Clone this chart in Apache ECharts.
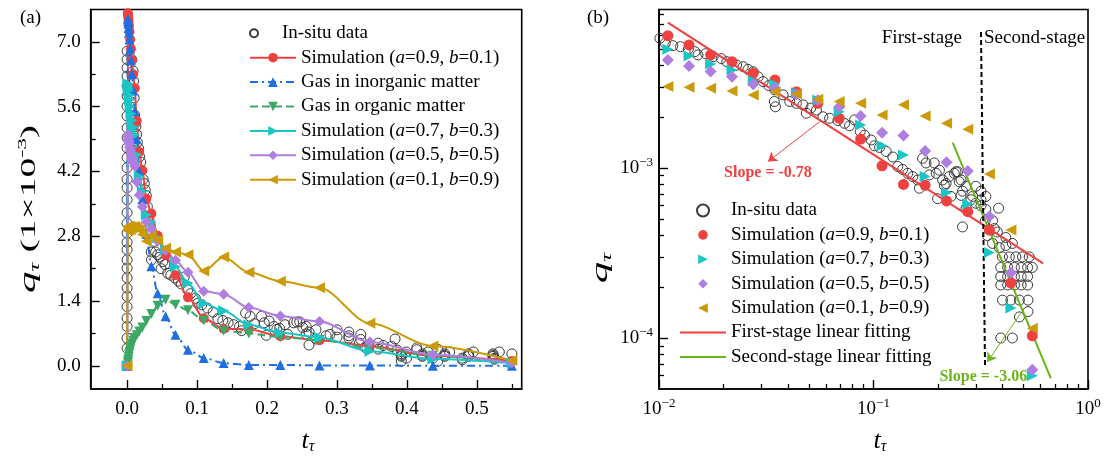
<!DOCTYPE html>
<html>
<head>
<meta charset="utf-8">
<script src="https://cdn.jsdelivr.net/npm/echarts@6/dist/echarts.min.js"></script>
<style>
  html, body { margin: 0; padding: 0; background: #fff; }
  #chart { width: 1106px; height: 462px; }
</style>
</head>
<body>
<div id="chart"></div>
<script>
var FONT = '"Liberation Serif", "Times New Roman", serif'
var RED = '#f04141'
var BLUE = '#1f6fe0'
var GREEN = '#3ca865'
var CYAN = '#19c6c6'
var PURPLE = '#b07ee0'
var GOLD = '#cc9a08'
var FITGREEN = '#6cb41c'

// simulated time grid (t_tau) shared by every simulation curve
var simT = [0, 0.0011, 0.0014, 0.0017, 0.0022, 0.0028, 0.0035, 0.0044, 0.0055, 0.0069, 0.0087,
  0.011, 0.0138, 0.0174, 0.0219, 0.0275, 0.0347, 0.0437, 0.055, 0.0692, 0.0871,
  0.1096, 0.138, 0.174, 0.219, 0.275, 0.347, 0.437, 0.55]
// q_tau in units of 1e-3
var simA09 = [0, 7.62, 7.58, 7.52, 7.45, 7.35, 7.22, 7.05, 6.85, 6.6, 6.3,
  6.0, 5.29, 4.62, 4.22, 3.61, 3.29, 2.81, 2.4, 1.96, 1.48,
  1.03, 0.8, 0.79, 0.64, 0.553, 0.431, 0.211, 0.103]
var simA07 = [0, 6.1, 6.05, 6.0, 5.95, 5.85, 5.75, 5.6, 5.45, 5.3, 5.15,
  4.99, 4.56, 4.09, 3.77, 3.26, 3.11, 2.77, 2.51, 2.14, 1.79,
  1.35, 1.19, 0.89, 0.716, 0.614, 0.318, 0.15, 0.06]
var simA05 = [0, 5.0, 4.95, 4.9, 4.85, 4.8, 4.72, 4.65, 4.55, 4.47, 4.4,
  4.32, 3.98, 3.69, 3.44, 3.11, 2.95, 2.7, 2.5, 2.28, 2.02,
  1.61, 1.55, 1.26, 1.08, 0.96, 0.518, 0.242, 0.065]
var simA01 = [0, 2.92, 3.0, 2.95, 3.02, 2.97, 3.0, 2.94, 3.01, 2.98, 3.0,
  3.01, 2.98, 2.94, 2.84, 2.69, 2.81, 2.72, 2.54, 2.46, 2.4,
  2.05, 2.35, 2.02, 1.83, 1.69, 0.92, 0.431, 0.114]
var gasInorganic = [0, 7.5, 7.45, 7.4, 7.3, 7.2, 7.05, 6.85, 6.6, 6.3, 5.95,
  5.5, 4.9, 4.2, 3.6, 2.85, 2.15, 1.57, 1.07, 0.67, 0.35,
  0.17, 0.06, 0.02, 0.02, 0.01, 0.01, 0, 0]
var gasOrganic = [0, 0.06, 0.1, 0.14, 0.19, 0.25, 0.3, 0.36, 0.42, 0.48, 0.54,
  0.6, 0.66, 0.74, 0.83, 0.97, 1.12, 1.3, 1.43, 1.32, 1.2,
  0.98, 0.76, 0.7, 0.62, 0.56, 0.4, 0.22, 0.06]

// in-situ data [t_tau, q_tau (1e-3)]
var insitu = [
  [0, 0.38], [0, 0.6], [0, 0.85], [0, 1.03], [0, 1.28], [0, 1.5], [0, 1.68], [0, 1.9],
  [0, 2.11], [0, 2.29], [0, 2.51], [0, 2.67], [0, 2.87], [0, 3.08], [0, 3.31], [0, 3.59],
  [0, 3.85], [0, 4.03], [0, 4.28], [0, 4.5], [0, 4.71], [0, 4.93], [0, 5.14], [0, 5.4],
  [0, 5.61], [0, 5.83], [0, 6.05], [0, 6.26], [0, 6.44], [0, 6.62], [0, 6.8],
  [0.0067, 6.62], [0.0086, 6.37], [0.0094, 6.15],
  [0.0101, 5.79], [0.0107, 5.42], [0.0116, 5.24], [0.0126, 5.17], [0.0137, 5.0], [0.0147, 4.83],
  [0.0152, 4.62], [0.0165, 4.7], [0.0179, 4.52], [0.0195, 4.4], [0.0207, 4.22], [0.023, 4.03],
  [0.0247, 3.94], [0.026, 3.8], [0.0275, 3.68], [0.029, 3.44], [0.0306, 3.22], [0.0325, 3.05],
  [0.0347, 2.88], [0.0345, 2.46], [0.0349, 2.29], [0.0379, 2.69], [0.0407, 2.46], [0.0437, 2.4],
  [0.0469, 2.35], [0.0486, 2.1], [0.051, 2.25], [0.0542, 2.19], [0.0581, 2.0], [0.0624, 1.96],
  [0.0682, 1.9], [0.0733, 1.83], [0.0773, 1.77], [0.0816, 1.92], [0.0867, 1.64], [0.0908, 1.56],
  [0.0975, 1.46], [0.101, 1.35], [0.1067, 1.32], [0.1146, 1.25], [0.123, 1.16], [0.1297, 1.02],
  [0.1368, 0.98], [0.1444, 0.93], [0.1524, 0.89], [0.1607, 0.85], [0.1637, 0.76], [0.1694, 1.14],
  [0.1758, 1.07], [0.182, 0.91], [0.192, 1.07], [0.196, 0.93], [0.199, 0.66], [0.203, 0.97],
  [0.21, 0.85], [0.214, 0.79], [0.218, 0.81], [0.2256, 0.89], [0.2296, 0.68], [0.238, 0.93],
  [0.2425, 0.95], [0.2467, 0.95], [0.251, 0.83], [0.256, 0.85], [0.256, 0.69], [0.26, 0.73],
  [0.26, 0.45], [0.27, 0.78], [0.27, 0.58], [0.2845, 0.65], [0.29, 0.68], [0.3, 0.62],
  [0.3, 0.78], [0.317, 0.65], [0.317, 0.6], [0.317, 0.73], [0.332, 0.49], [0.334, 0.68],
  [0.334, 0.57], [0.34, 0.4], [0.359, 0.49], [0.359, 0.36], [0.366, 0.44], [0.378, 0.42],
  [0.383, 0.58], [0.386, 0.34], [0.392, 0.26], [0.392, 0.23], [0.392, 0.205], [0.392, 0.1],
  [0.399, 0.3], [0.3994, 0.167], [0.414, 0.35], [0.414, 0.39], [0.422, 0.26], [0.422, 0.23],
  [0.422, 0.205], [0.43, 0.3], [0.437, 0.167], [0.444, 0.36], [0.444, 0.1], [0.454, 0.26],
  [0.454, 0.23], [0.454, 0.205], [0.461, 0.3], [0.479, 0.167], [0.479, 0.133], [0.488, 0.26],
  [0.488, 0.23], [0.488, 0.205], [0.495, 0.3], [0.523, 0.26], [0.523, 0.23], [0.523, 0.205],
  [0.525, 0.167], [0.525, 0.143], [0.532, 0.3], [0.55, 0.26]
]

// fitted lines in panel (b), [t, q (1e-3)]
var fitFirst = [[0.011, 7.16], [0.6175, 0.275]]
var fitSecond = [[0.234, 1.41], [0.671, 0.0579]]
var stageBoundary = [[0.317, 6.3], [0.331, 0.0694]]

var ticksA_x = [0, 0.1, 0.2, 0.3, 0.4, 0.5]
var minorA_x = [0.05, 0.15, 0.25, 0.35, 0.45, 0.55]
var ticksA_y = [0, 1.4, 2.8, 4.2, 5.6, 7.0]
var minorA_y = [0.7, 2.1, 3.5, 4.9, 6.3]
var decadesB_x = [-2, -1, 0]
var decadesB_y = [-4, -3]

function simPairs(values) {
  return simT.map(function(t, i) { return [t, values[i]] })
}
function toLog(points) {
  return points.filter(function(p) { return p[0] > 0 && p[1] > 0 })
    .map(function(p) { return [Math.log10(p[0]), Math.log10(p[1] * 1e-3)] })
}
function logMinor(decades, mults) {
  var out = []
  decades.forEach(function(d) {
    mults.forEach(function(m) { out.push(Math.log10(m * Math.pow(10, d))) })
  })
  return out
}
var minorB_x = logMinor([-2, -1], [2, 3, 4, 5, 6, 7, 8, 9])
var minorB_y = logMinor([-5], [6, 7, 8, 9]).concat(logMinor([-4], [2, 3, 4, 5, 6, 7, 8, 9]))
  .concat(logMinor([-3], [2, 3, 4, 5, 6, 7, 8]))

var powRich = {
  b: { fontFamily: FONT, fontSize: 19, color: '#000' },
  s: { fontFamily: FONT, fontSize: 13, color: '#000', padding: [0, 0, 11, 0] }
}
function powLabel(v) {
  var e = Math.round(v)
  return '{b|10}{s|' + (e < 0 ? '\u2212' + (-e) : e) + '}'
}

function majorAxis(dim, gridIndex, min, max, ticks, fmt, margin, rich) {
  return {
    type: 'value', gridIndex: gridIndex, min: min, max: max,
    position: dim === 'x' ? 'bottom' : 'left',
    axisLine: { show: true, onZero: false, lineStyle: { color: '#000', width: 1.6 } },
    axisTick: { show: true, inside: true, length: 9, customValues: ticks, lineStyle: { color: '#000', width: 1.4 } },
    axisLabel: { show: true, customValues: ticks, formatter: fmt, margin: margin, color: '#000', fontFamily: FONT, fontSize: 19, rich: rich },
    splitLine: { show: false }
  }
}
function minorAxis(dim, gridIndex, min, max, ticks) {
  return {
    type: 'value', gridIndex: gridIndex, min: min, max: max,
    position: dim === 'x' ? 'bottom' : 'left',
    axisLine: { show: false, onZero: false },
    axisTick: { show: true, inside: true, length: 5, customValues: ticks, lineStyle: { color: '#000', width: 1.3 } },
    axisLabel: { show: false },
    splitLine: { show: false }
  }
}
function fixed1(v) { return v.toFixed(1) }

function lineSim(name, values, color, symbol, rotate, size, lineType) {
  return {
    name: name, type: 'line', xAxisIndex: 0, yAxisIndex: 0,
    data: simPairs(values), smooth: 0.3, smoothMonotone: 'x',
    symbol: symbol, symbolRotate: rotate, symbolSize: size, showAllSymbol: true,
    itemStyle: { color: color },
    lineStyle: { color: color, width: 2, type: lineType || 'solid' }
  }
}
// markers only in panel (b); a line series with an invisible line keeps the legend icon undistorted
function markerSim(name, values, color, symbol, rotate, size) {
  return {
    name: name, type: 'line', xAxisIndex: 2, yAxisIndex: 2,
    data: toLog(simPairs(values)),
    symbol: symbol, symbolRotate: rotate, symbolSize: size, showAllSymbol: true,
    itemStyle: { color: color, opacity: 1 },
    lineStyle: { width: 0, opacity: 0 }
  }
}

var NAME_A09 = 'Simulation (a=0.9, b=0.1)'
var NAME_A07 = 'Simulation (a=0.7, b=0.3)'
var NAME_A05 = 'Simulation (a=0.5, b=0.5)'
var NAME_A01 = 'Simulation (a=0.1, b=0.9)'

var legendText = {
  fontFamily: FONT, fontSize: 19, color: '#000', lineHeight: 20,
  rich: { i: { fontFamily: FONT, fontSize: 19, fontStyle: 'italic', color: '#000' } }
}
function legendFormatter(name) {
  return name.trim().replace('(a=', '({i|a}=').replace(' b=', ' {i|b}=')
}
function legendBlock(left, top, iconHeight, names) {
  return {
    orient: 'vertical', left: left, top: top, padding: 0, itemWidth: 46, itemHeight: iconHeight, itemGap: 4.4,
    selectedMode: false, textStyle: legendText, formatter: legendFormatter, data: names
  }
}

var insituStyle = { color: 'rgba(0,0,0,0)', borderColor: '#3a3a3a', borderWidth: 1, opacity: 1 }

function axisTitle(x, y, letter) {
  return {
    type: 'text', x: x, y: y,
    style: {
      text: '{q|' + letter + '}{s|\u03c4}', align: 'center', verticalAlign: 'middle',
      rich: {
        q: { fontFamily: FONT, fontSize: 26, fontStyle: 'italic', fill: '#000' },
        s: { fontFamily: FONT, fontSize: 16, fontStyle: 'italic', fill: '#000', padding: [12, 0, 0, 0] }
      }
    }
  }
}
// the y titles in the source figure are drawn stretched along their reading direction
var yTitleRich = {
  q: { fontFamily: FONT, fontSize: 24, fontStyle: 'italic', fill: '#000' },
  s: { fontFamily: FONT, fontSize: 14, fontStyle: 'italic', fill: '#000', padding: [12, 0, 0, 0] },
  n: { fontFamily: FONT, fontSize: 22, fill: '#000' },
  p: { fontFamily: FONT, fontSize: 13, fill: '#000', padding: [0, 0, 12, 0] }
}

var option = {
  animation: false,
  backgroundColor: '#fff',
  grid: [
    { left: 90.7, top: 9.5, width: 431, height: 379.5, show: true, borderColor: '#000', borderWidth: 1.6, backgroundColor: 'transparent' },
    { left: 659, top: 9.5, width: 429, height: 379.5, show: true, borderColor: '#000', borderWidth: 1.6, backgroundColor: 'transparent' }
  ],
  xAxis: [
    majorAxis('x', 0, -0.052, 0.564, ticksA_x, fixed1, 11),
    minorAxis('x', 0, -0.052, 0.564, minorA_x),
    majorAxis('x', 1, -2, 0, decadesB_x, powLabel, 8, powRich),
    minorAxis('x', 1, -2, 0, minorB_x)
  ],
  yAxis: [
    majorAxis('y', 0, -0.5, 7.7, ticksA_y, fixed1, 10),
    minorAxis('y', 0, -0.5, 7.7, minorA_y),
    majorAxis('y', 1, -4.3, -2.068, decadesB_y, powLabel, 6, powRich),
    minorAxis('y', 1, -4.3, -2.068, minorB_y)
  ],
  legend: [
    legendBlock(249, 23.3, 8, ['In-situ data']),
    legendBlock(249, 47.7, 12, [NAME_A09, 'Gas in inorganic matter', 'Gas in organic matter', NAME_A07, NAME_A05, NAME_A01]),
    legendBlock(679, 200.5, 12, ['In-situ data ', NAME_A09 + ' ', NAME_A07 + ' ', NAME_A05 + ' ', NAME_A01 + ' ',
      { name: 'First-stage linear fitting', itemStyle: { opacity: 0 } },
      { name: 'Second-stage linear fitting', itemStyle: { opacity: 0 } }])
  ],
  graphic: [
    { type: 'text', x: 20, y: 18, style: { text: '(a)', fontFamily: FONT, fontSize: 19, fill: '#000', verticalAlign: 'middle' } },
    { type: 'text', x: 587, y: 18, style: { text: '(b)', fontFamily: FONT, fontSize: 19, fill: '#000', verticalAlign: 'middle' } },
    {
      type: 'text', x: 29, y: 209, rotation: Math.PI / 2, scaleX: 1.8, scaleY: 1,
      style: {
        text: '{q|q}{s|\u03c4}{n| (1\u00d710}{p|-3}{n|)}', align: 'center', verticalAlign: 'middle',
        rich: yTitleRich
      }
    },
    {
      type: 'text', x: 601, y: 268, rotation: Math.PI / 2, scaleX: 1.8, scaleY: 1,
      style: { text: '{q|q}{s|\u03c4}', align: 'center', verticalAlign: 'middle', rich: yTitleRich }
    },
    axisTitle(308, 441, 't'),
    axisTitle(880, 441, 't'),
    { type: 'text', x: 962, y: 38, style: { text: 'First-stage', fontFamily: FONT, fontSize: 19, fill: '#000', align: 'right', verticalAlign: 'middle' } },
    { type: 'text', x: 984, y: 38, style: { text: 'Second-stage', fontFamily: FONT, fontSize: 19, fill: '#000', align: 'left', verticalAlign: 'middle' } }
  ],
  series: [
    // panel (a)
    {
      name: 'In-situ data', type: 'scatter', xAxisIndex: 0, yAxisIndex: 0,
      data: insitu, symbol: 'circle', symbolSize: 10, itemStyle: insituStyle
    },
    lineSim(NAME_A09, simA09, RED, 'circle', 0, 10),
    lineSim('Gas in inorganic matter', gasInorganic, BLUE, 'triangle', 0, 10, [8, 4, 2, 4]),
    lineSim('Gas in organic matter', gasOrganic, GREEN, 'triangle', 180, 10, [8, 4]),
    lineSim(NAME_A07, simA07, CYAN, 'triangle', -90, 11),
    lineSim(NAME_A05, simA05, PURPLE, 'diamond', 0, 11),
    lineSim(NAME_A01, simA01, GOLD, 'triangle', 90, 11),

    // panel (b)
    {
      name: 'In-situ data ', type: 'scatter', xAxisIndex: 2, yAxisIndex: 2,
      data: toLog(insitu), symbol: 'circle', symbolSize: 10, itemStyle: insituStyle
    },
    markerSim(NAME_A09 + ' ', simA09, RED, 'circle', 0, 11),
    markerSim(NAME_A07 + ' ', simA07, CYAN, 'triangle', -90, 11),
    markerSim(NAME_A05 + ' ', simA05, PURPLE, 'diamond', 0, 12),
    markerSim(NAME_A01 + ' ', simA01, GOLD, 'triangle', 90, 11),
    {
      name: 'First-stage linear fitting', type: 'line', xAxisIndex: 2, yAxisIndex: 2,
      data: toLog(fitFirst), symbol: 'none', lineStyle: { color: RED, width: 2 }, itemStyle: { color: RED },
      markLine: {
        silent: true, symbol: ['none', 'arrow'], symbolSize: 9,
        lineStyle: { color: RED, width: 1, type: 'solid' }, label: { show: false },
        data: [[{ coord: toLog([[0.0561, 1.87]])[0] }, { coord: toLog([[0.0322, 1.09]])[0] }]]
      },
      markPoint: {
        silent: true, symbol: 'circle', symbolSize: 0,
        label: { show: true, position: 'inside', formatter: 'Slope = -0.78', color: RED, fontFamily: FONT, fontWeight: 'bold', fontSize: 16 },
        data: [{ coord: toLog([[0.0322, 0.935]])[0] }]
      }
    },
    {
      name: 'Second-stage linear fitting', type: 'line', xAxisIndex: 2, yAxisIndex: 2,
      data: toLog(fitSecond), symbol: 'none', lineStyle: { color: FITGREEN, width: 2 }, itemStyle: { color: FITGREEN },
      markLine: {
        silent: true, symbol: ['none', 'arrow'], symbolSize: 9,
        lineStyle: { color: FITGREEN, width: 1, type: 'solid' }, label: { show: false },
        data: [[{ coord: toLog([[0.4864, 0.14]])[0] }, { coord: toLog([[0.339, 0.0722]])[0] }]]
      },
      markPoint: {
        silent: true, symbol: 'circle', symbolSize: 0,
        label: { show: true, position: 'inside', formatter: 'Slope = -3.06', color: FITGREEN, fontFamily: FONT, fontWeight: 'bold', fontSize: 16 },
        data: [{ coord: toLog([[0.325, 0.059]])[0] }]
      }
    },
    {
      name: 'stage boundary', type: 'line', xAxisIndex: 2, yAxisIndex: 2,
      data: toLog(stageBoundary), symbol: 'none',
      lineStyle: { color: '#000', width: 2, type: [5, 3] }
    }
  ]
}

var chart = echarts.init(document.getElementById('chart'))
chart.setOption(option)
</script>
</body>
</html>
